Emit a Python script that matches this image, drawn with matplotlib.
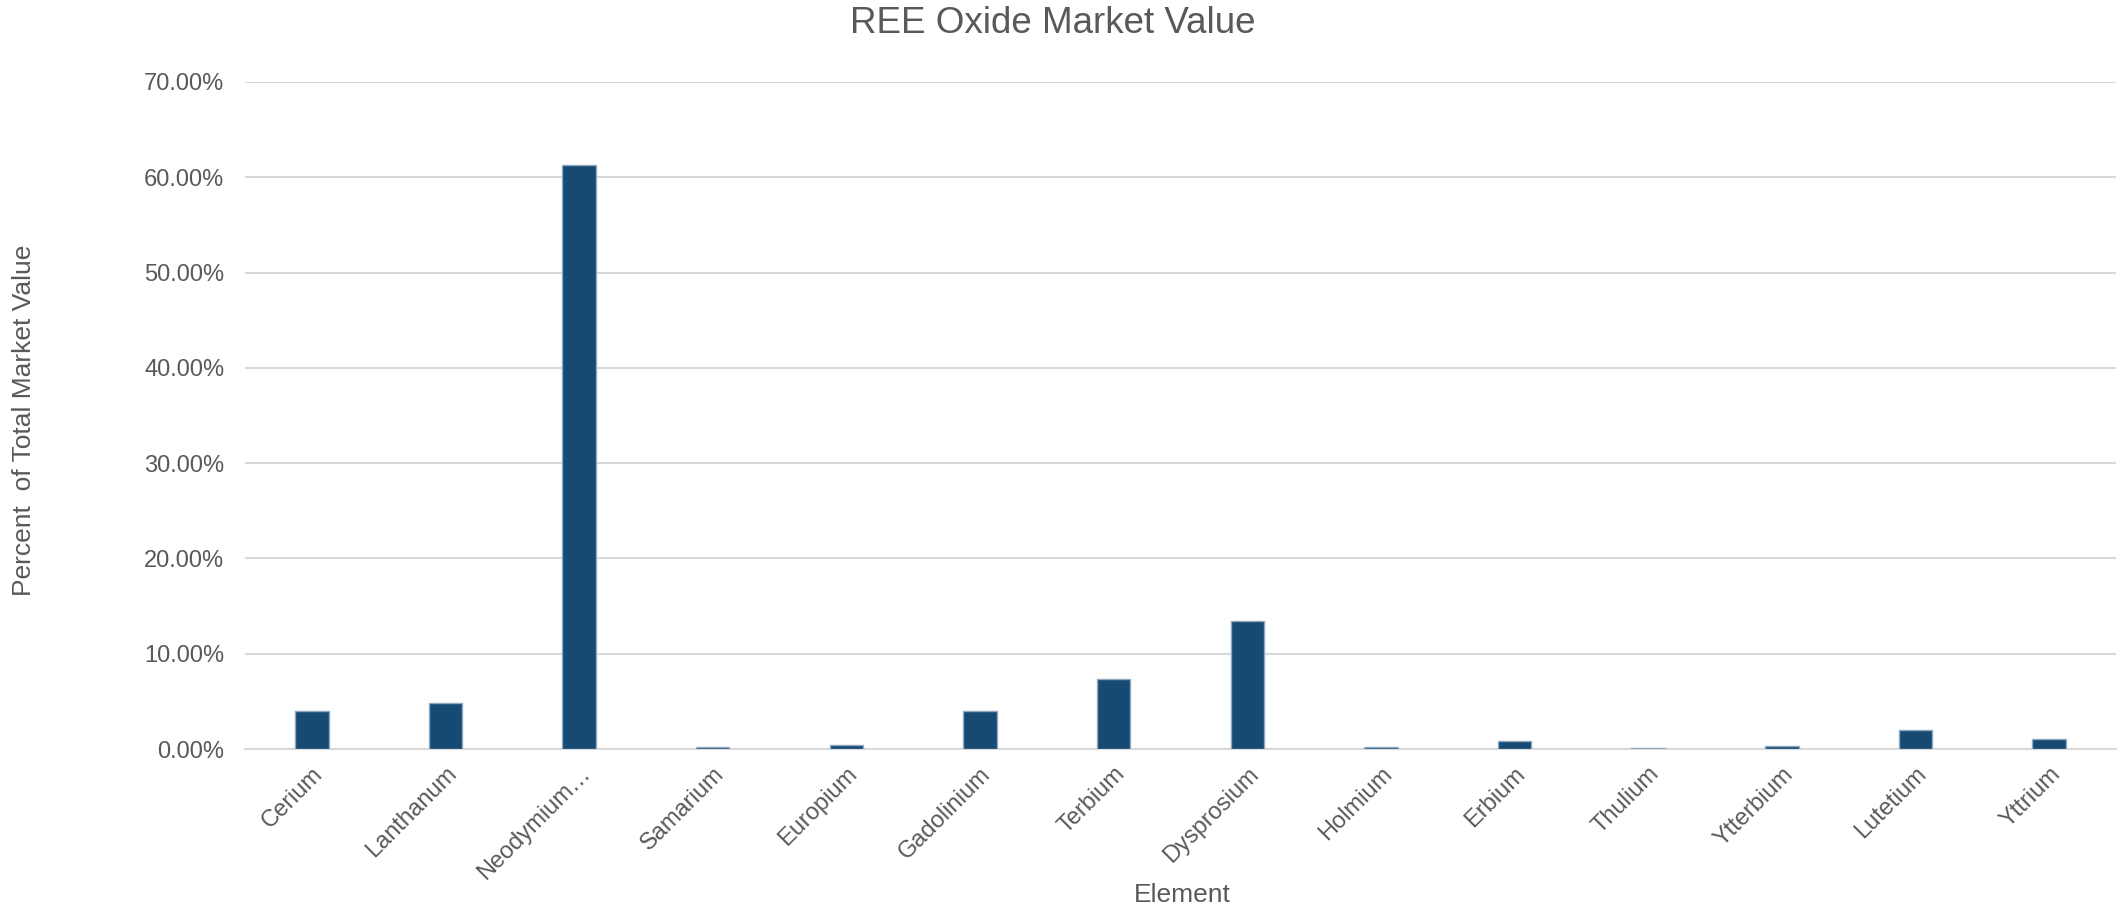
import matplotlib.pyplot as plt
from matplotlib.ticker import PercentFormatter

# Data (fraction of total market value)
elements = ['Cerium', 'Lanthanum', 'Neodymium…', 'Samarium', 'Europium',
            'Gadolinium', 'Terbium', 'Dysprosium', 'Holmium', 'Erbium',
            'Thulium', 'Ytterbium', 'Lutetium', 'Yttrium']
share = [0.0397, 0.0483, 0.6125, 0.0018, 0.0039,
         0.0397, 0.0731, 0.1340, 0.0021, 0.0084,
         0.0010, 0.0031, 0.0196, 0.0105]

plt.rcParams['font.family'] = ['Liberation Sans', 'DejaVu Sans']
grey = '#595959'

fig = plt.figure(figsize=(21.18, 9.10), dpi=100)
ax = fig.add_axes([0.1157, 0.1769, 0.8833, 0.7330])

x = range(len(elements))
ax.bar(x, share, width=0.25, color='#164A72', edgecolor='#8FA9C2', linewidth=1.0, zorder=3)

ax.set_xlim(-0.5, len(elements) - 0.5)
ax.set_ylim(0, 0.70)
ax.set_yticks([i / 10 for i in range(8)])
ax.yaxis.set_major_formatter(PercentFormatter(1.0, decimals=2))
ax.grid(axis='y', color='#D9D9D9', linewidth=1.5, zorder=0)

for side in ['top', 'right', 'left']:
    ax.spines[side].set_visible(False)
ax.spines['bottom'].set_color('#D9D9D9')
ax.spines['bottom'].set_linewidth(1.5)
ax.tick_params(axis='both', length=0, labelsize=17, colors=grey)
ax.tick_params(axis='y', pad=15)
ax.tick_params(axis='x', pad=10)

ax.set_xticks(list(x))
ax.set_xticklabels(elements, rotation=45, ha='right', rotation_mode='anchor')

fig.text(0.497, 0.974, 'REE Oxide Market Value', ha='center', va='center', fontsize=26.5, color=grey)
fig.text(0.558, 0.0165, 'Element', ha='center', va='center', fontsize=19, color=grey)
fig.text(0.0115, 0.538, 'Percent  of Total Market Value', rotation=90, ha='center', va='center',
         fontsize=19, color=grey)

plt.savefig('out.png', dpi=100)
